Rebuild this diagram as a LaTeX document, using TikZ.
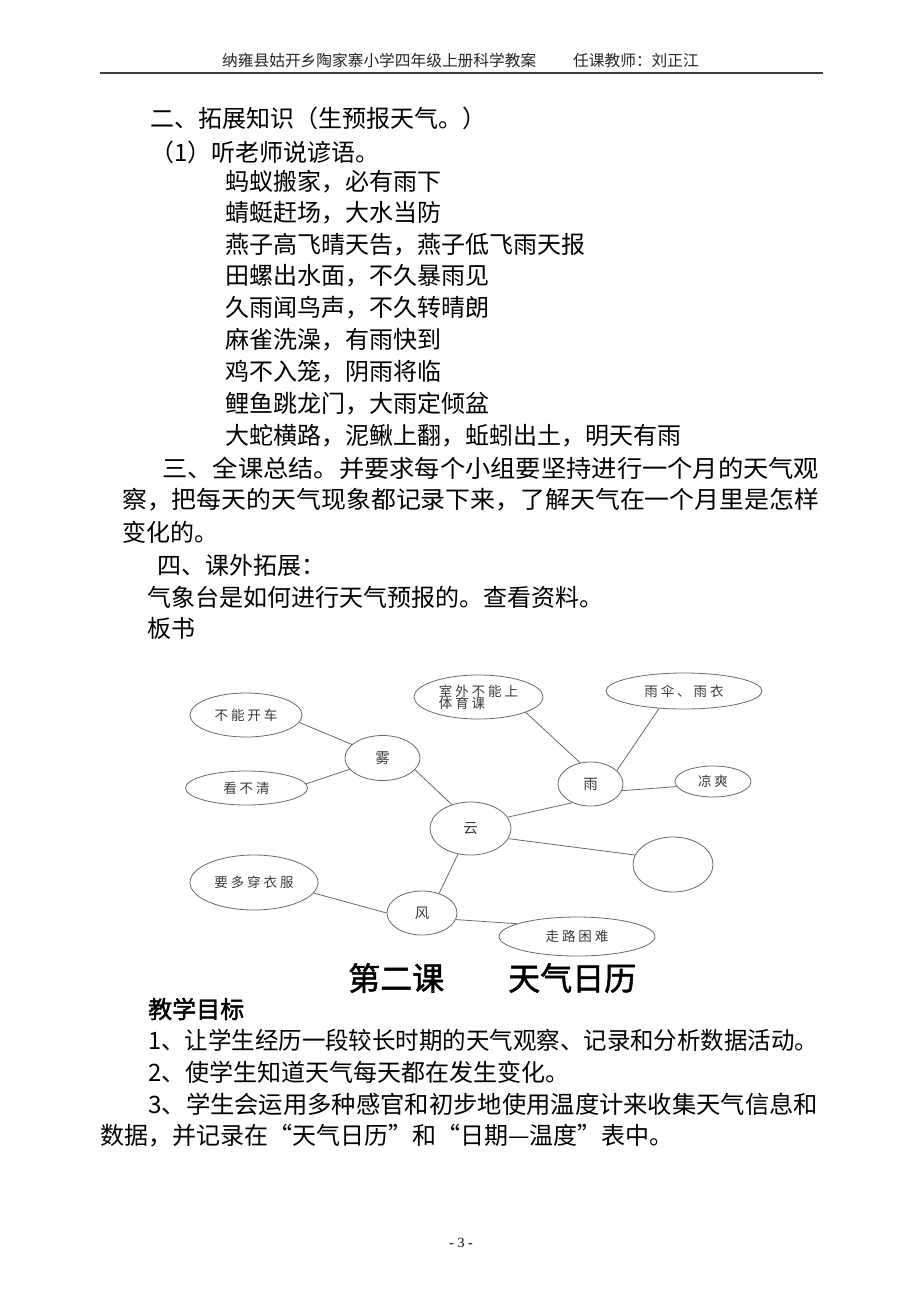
\documentclass[tikz,border=0pt]{standalone}
\usepackage{fontspec}
\usepackage{graphicx}
\usetikzlibrary{shapes.geometric}
\newfontfamily\cjk{Noto Sans CJK SC}
\newfontfamily\cjkls[LetterSpace=22]{Noto Sans CJK SC}
\newfontfamily\cjkbf[FakeBold=1.6]{Noto Sans CJK SC}
\newfontfamily\numfont{Liberation Serif}
\newcommand\fitto[2]{\resizebox{#1}{\height}{#2}}
\definecolor{linegrey}{HTML}{6A6A6A}
\definecolor{labelgrey}{HTML}{3A3A3A}
\tikzset{
  body/.style={anchor=west, inner sep=0pt, font=\cjk\fontsize{24}{24}\selectfont},
  bodybf/.style={anchor=west, inner sep=0pt, font=\cjkbf\fontsize{24}{24}\selectfont},
  hdr/.style={anchor=west, inner sep=0pt, font=\cjk\fontsize{15.7}{16}\selectfont, text=black!85},
  bub/.style={ellipse, draw=linegrey, line width=0.8pt, inner sep=0pt, text=labelgrey,
              font=\cjkls\fontsize{13.5}{13}\selectfont},
  bubc/.style={bub, font=\cjk\fontsize{14.5}{14}\selectfont},
  link/.style={draw=linegrey, line width=0.8pt}
}
\begin{document}
\begin{tikzpicture}[x=1pt,y=-1pt]
\useasboundingbox[fill=white] (0,0) rectangle (920,1300);

% header
\node[hdr] (h1) at (222,61) {纳雍县姑开乡陶家寨小学四年级上册科学教案};
\node[hdr] (h2) at (573,61) {任课教师：刘正江};
\coordinate (rl) at (100,73);
\coordinate (rr) at (823,73);
\draw[line width=1.8pt, black!75] (rl) -- (rr);

% body text
\node[body] (t1) at (150,118) {二、拓展知识（生预报天气。）};
\node[body] (t2) at (150,152) {（1）听老师说谚语。};
\node[body] (p1) at (225,182) {蚂蚁搬家，必有雨下};
\node[body] (p2) at (225,213) {蜻蜓赶场，大水当防};
\node[body] (p3) at (225,245) {燕子高飞晴天告，燕子低飞雨天报};
\node[body] (p4) at (225,276) {田螺出水面，不久暴雨见};
\node[body] (p5) at (225,308) {久雨闻鸟声，不久转晴朗};
\node[body] (p6) at (225,340) {麻雀洗澡，有雨快到};
\node[body] (p7) at (225,372) {鸡不入笼，阴雨将临};
\node[body] (p8) at (225,404) {鲤鱼跳龙门，大雨定倾盆};
\node[body] (p9) at (225,436) {大蛇横路，泥鳅上翻，蚯蚓出土，明天有雨};
\node[body] (s1) at (162,468) {\fitto{657pt}{三、全课总结。并要求每个小组要坚持进行一个月的天气观}};
\node[body] (s2) at (122,500) {\fitto{697pt}{察，把每天的天气现象都记录下来，了解天气在一个月里是怎样}};
\node[body] (s3) at (122,532) {变化的。};
\node[body] (s4) at (157,565) {四、课外拓展：};
\node[body] (s5) at (147,597) {气象台是如何进行天气预报的。查看资料。};
\node[body] (s6) at (147,628) {板书};

% mind map
\node[bub, minimum width=112pt, minimum height=44pt] (bnkc) at (246,715) {不能开车};
\node[bub, minimum width=122pt, minimum height=34pt] (kbq) at (246.5,788) {看不清};
\node[bubc, minimum width=75pt, minimum height=45pt] (wu) at (382.5,758) {雾};
\node[bub, minimum width=129pt, minimum height=44pt, align=left] (sw) at (478.5,697) {室外不能上\\[-1pt]体育课};
\node[bub, minimum width=156pt, minimum height=36pt] (ys) at (684,691) {雨伞、雨衣};
\node[bubc, minimum width=65pt, minimum height=44pt] (yu) at (590.5,784) {雨};
\node[bub, minimum width=76pt, minimum height=31pt] (ls) at (713,781.5) {凉爽};
\node[bubc, minimum width=81pt, minimum height=53pt] (yun) at (470.5,828.5) {云};
\node[bub, minimum width=80pt, minimum height=55pt] (empty) at (673,864.5) {};
\node[bub, minimum width=128pt, minimum height=55pt] (ydc) at (254,882.5) {要多穿衣服};
\node[bubc, minimum width=70pt, minimum height=44pt] (feng) at (422,913) {风};
\node[bub, minimum width=156pt, minimum height=39pt] (zlkn) at (577,936.5) {走路困难};

\draw[link] (bnkc.352) -- (wu.156.7);
\draw[link] (kbq.4.6) -- (wu.199);
\draw[link] (wu.340) -- (yun.128);
\draw[link] (sw.342.8) -- (yu.116.6);
\draw[link] (ys.215.3) -- (yu.27.8);
\draw[link] (yu.348) -- (ls.188.2);
\draw[link] (yu.226) -- (yun.17.6);
\draw[link] (yun.345.8) -- (empty.166.8);
\draw[link] (yun.244) -- (feng.49.2);
\draw[link] (ydc.350.5) -- (feng.180);
\draw[link] (feng.349) -- (zlkn.168.6);

% lesson title
\node[anchor=west, inner sep=0pt, font=\cjkbf\fontsize{32}{32}\selectfont] (title) at (348,978) {第二课　　天气日历};
\node[bodybf] (goal) at (148,1009) {教学目标};
\node[body] (g1) at (148,1040) {\fitto{670pt}{1、让学生经历一段较长时期的天气观察、记录和分析数据活动。}};
\node[body] (g2) at (148,1072) {2、使学生知道天气每天都在发生变化。};
\node[body] (g3) at (148,1104) {\fitto{670pt}{3、学生会运用多种感官和初步地使用温度计来收集天气信息和}};
\node[body] (g4) at (100,1136) {数据，并记录在“天气日历”和“日期—温度”表中。};

% page number
\node[inner sep=0pt, font=\numfont\fontsize{14}{14}\selectfont] (pg) at (461,1243) {- 3 -};
\end{tikzpicture}
\end{document}
